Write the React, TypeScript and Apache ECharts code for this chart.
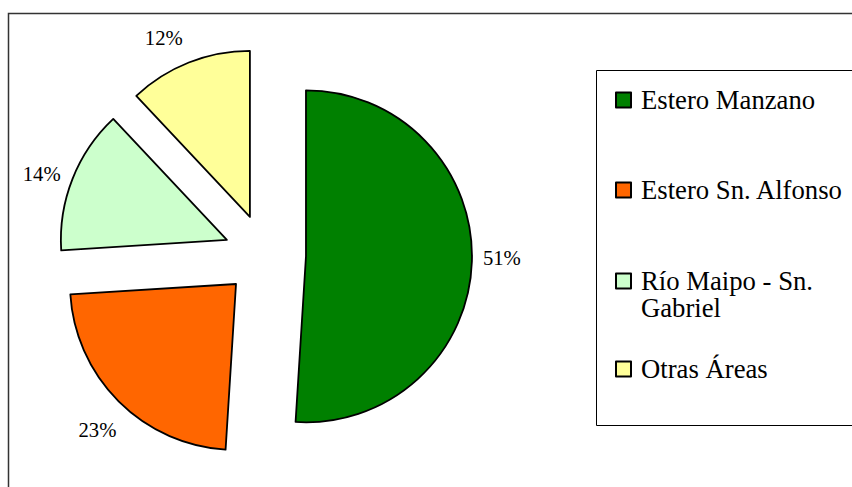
import React, { useEffect, useRef } from "react";
import * as echarts from "echarts";

const categories = ["Estero Manzano", "Estero Sn. Alfonso", "Río Maipo - Sn. Gabriel", "Otras Áreas"];
const values = [51, 23, 14, 12];
const colors = ["#008000", "#FF6600", "#CCFFCC", "#FFFF99"];

const FONT = "'Liberation Serif', 'Times New Roman', serif";

export default function App() {
  const ref = useRef<HTMLDivElement>(null);
  useEffect(() => {
    if (!ref.current) return;
    const chart = echarts.init(ref.current, undefined, { renderer: "svg" });
    const legendTops = [86.5, 176.5, 240.5, 355.5];
    const legends = categories.map((name, i) => ({
      data: [name],
      left: 615,
      top: legendTops[i],
      orient: "vertical",
      padding: 0,
      icon: "rect",
      itemWidth: 15,
      itemHeight: 15,
      itemStyle: { borderColor: "#000", borderWidth: 2 },
      selectedMode: false,
      formatter: i === 2 ? (n: string) => "\n" + n : undefined,
      textStyle: {
        fontFamily: FONT,
        fontSize: 26.7,
        lineHeight: 27,
        color: "#000",
        width: 205,
        overflow: "break",
        padding: [0, 0, 0, 5],
      },
    }));
    // small label nudges to mimic the original label placement
    const labelNudge = [
      [0, -4],
      [0, 7],
      [-3, 6],
      [-14, 3],
    ];
    chart.setOption({
      animation: false,
      backgroundColor: "#fff",
      graphic: [
        {
          type: "rect",
          shape: { x: 8.5, y: 13.5, width: 900, height: 600 },
          style: { fill: "none", stroke: "#333", lineWidth: 1.5 },
          z: 0,
        },
        {
          type: "rect",
          shape: { x: 596.5, y: 70.5, width: 300, height: 355 },
          style: { fill: "none", stroke: "#000", lineWidth: 1 },
          z: 0,
        },
      ],
      legend: legends,
      series: [
        {
          type: "pie",
          center: [265, 255],
          radius: 166,
          startAngle: 90,
          clockwise: true,
          avoidLabelOverlap: false,
          selectedMode: "multiple",
          selectedOffset: 41,
          itemStyle: { borderColor: "#000", borderWidth: 1.8 },
          select: { itemStyle: { borderColor: "#000", borderWidth: 1.8 } },
          emphasis: { disabled: true },
          label: {
            show: true,
            position: "outside",
            formatter: "{d}%",
            fontFamily: FONT,
            fontSize: 20.7,
            color: "#000",
            distanceToLabelLine: 0,
          },
          labelLine: { show: false, length: 30, length2: 0 },
          labelLayout: (p: any) => ({
            align: "center",
            verticalAlign: "middle",
            dx: labelNudge[p.dataIndex][0],
            dy: labelNudge[p.dataIndex][1],
          }),
          data: categories.map((name, i) => ({
            name,
            value: values[i],
            selected: true,
            itemStyle: { color: colors[i] },
          })),
        },
      ],
    });
    return () => chart.dispose();
  }, []);
  return (
    <div
      ref={ref}
      style={{ position: "absolute", left: 0, top: 0, width: 852, height: 487 }}
    />
  );
}
